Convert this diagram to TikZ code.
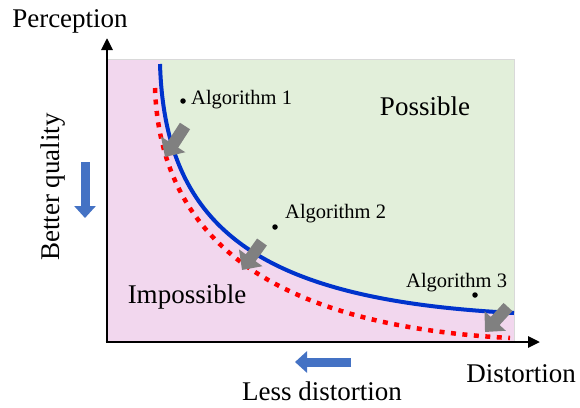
\documentclass[tikz,border=0pt]{standalone}
\usepackage{fontspec}
\setmainfont{Liberation Serif}
\usetikzlibrary{arrows.meta}
\definecolor{regionpink}{RGB}{242,215,238}
\definecolor{regiongreen}{RGB}{226,239,218}
\definecolor{boundblue}{RGB}{0,51,204}
\definecolor{hintblue}{RGB}{68,114,196}
\definecolor{shiftgray}{RGB}{128,128,128}
\newcommand{\bigfont}{\fontsize{27}{32}\selectfont}
\newcommand{\algfont}{\fontsize{20.5}{24}\selectfont}

\begin{document}
\begin{tikzpicture}[x=1pt, y=-1pt,
    shiftarrow/.style={draw=shiftgray, line width=12pt, -{Triangle[width=28pt,length=15pt]}},
    hintarrow/.style={draw=hintblue, line width=9pt, -{Triangle[width=21pt,length=12pt]}},
    axisline/.style={line width=2.8pt, -{Triangle[width=11pt,length=12pt]}},
    algdot/.style={circle, fill=black, inner sep=0pt, minimum size=5.5pt},
    alglabel/.style={font=\algfont, inner sep=0pt, anchor=base west},
    biglabel/.style={font=\bigfont, inner sep=0pt, anchor=base}]
  \useasboundingbox (0,0) rectangle (580,407);
  % regions
  \fill[regionpink] (107,59) rectangle (514,342);
  \fill[regiongreen] (160,59) -- (160,64) .. controls (165,230) and (260,300) .. (514,313)
      -- (514,59) -- cycle;
  \draw[gray!30, line width=1pt] (107,59) rectangle (514,342);
  % bounds
  \draw[boundblue, line width=4pt] (160,64) .. controls (165,230) and (260,300) .. (514,313);
  \draw[red, line width=4.5pt, dash pattern=on 5pt off 6.5pt]
      (155,88) .. controls (160,235) and (265,325) .. (510,338);
  % axes
  \coordinate (origin) at (107,342);
  \coordinate (ytip) at (107,38);
  \coordinate (xtip) at (540,342);
  \draw[axisline] (origin) -- (ytip);
  \draw[axisline] ([xshift=-1.4pt]origin) -- (xtip);
  % algorithms
  \node[algdot] (alg1) at (183,101) {};
  \node[alglabel] (alg1txt) at (191,104) {Algorithm 1};
  \node[algdot] (alg2) at (275,227) {};
  \node[alglabel] (alg2txt) at (285,218) {Algorithm 2};
  \node[algdot] (alg3) at (475,295) {};
  \node[alglabel] (alg3txt) at (406,287) {Algorithm 3};
  % shifts towards the bound
  \coordinate (s1a) at (185,126);  \coordinate (s1b) at (165,157);
  \coordinate (s2a) at (262,242);  \coordinate (s2b) at (242,270);
  \coordinate (s3a) at (508,307);  \coordinate (s3b) at (485,332);
  \draw[shiftarrow] (s1a) -- (s1b);
  \draw[shiftarrow] (s2a) -- (s2b);
  \draw[shiftarrow] (s3a) -- (s3b);
  % labels
  \node[biglabel] (possible) at (425,115) {Possible};
  \node[biglabel] (impossible) at (187,303) {Impossible};
  \node[biglabel] (perception) at (70,27) {Perception};
  \node[biglabel] (distortion) at (521,382) {Distortion};
  \node[biglabel] (lessdist) at (322,400) {Less distortion};
  \node[biglabel, rotate=90] (better) at (59,187) {Better quality};
  % hints
  \coordinate (qa) at (85,162);  \coordinate (qb) at (85,218);
  \coordinate (da) at (351,362); \coordinate (db) at (295,362);
  \draw[hintarrow] (qa) -- (qb);
  \draw[hintarrow] (da) -- (db);
\end{tikzpicture}
\end{document}
